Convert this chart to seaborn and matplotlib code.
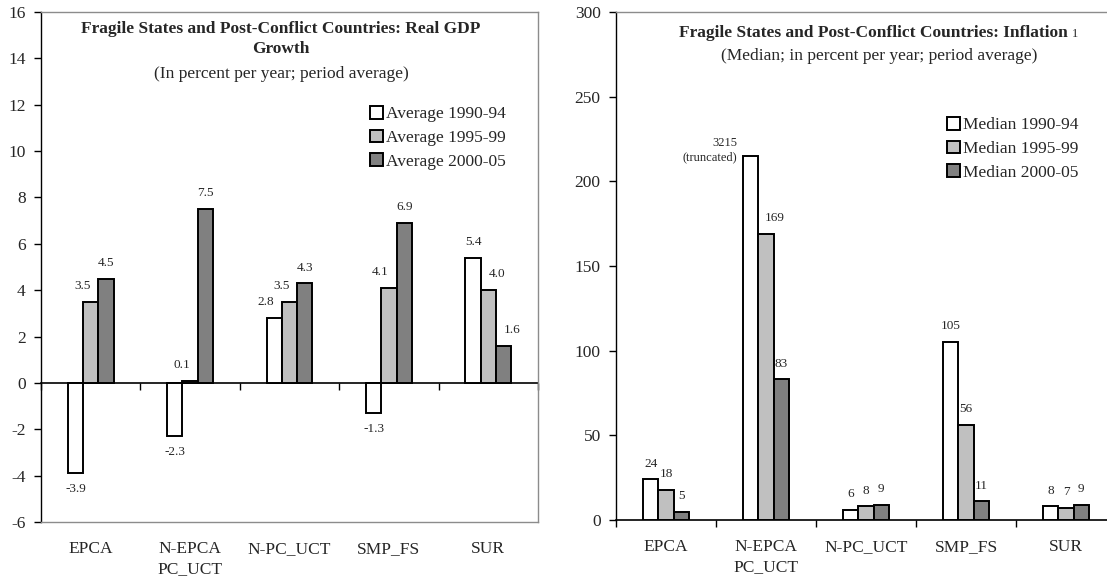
import numpy as np
import pandas as pd
import matplotlib
matplotlib.use("Agg")
import matplotlib.pyplot as plt
import seaborn as sns
from matplotlib.patches import Patch

# ---------------- data ----------------
regions = ["EPCA", "N-EPCA\nPC_UCT", "N-PC_UCT", "SMP_FS", "SUR"]

gdp_periods = ["Average 1990-94", "Average 1995-99", "Average 2000-05"]
gdp_1990_94 = [-3.9, -2.3, 2.8, -1.3, 5.4]
gdp_1995_99 = [3.5, 0.1, 3.5, 4.1, 4.0]
gdp_2000_05 = [4.5, 7.5, 4.3, 6.9, 1.6]

inf_periods = ["Median 1990-94", "Median 1995-99", "Median 2000-05"]
inf_1990_94 = [24, 3215, 6, 105, 8]
inf_1995_99 = [18, 169, 8, 56, 7]
inf_2000_05 = [5, 83, 9, 11, 9]
inf_cap = 215          # height at which the very large value is truncated

gdp_yticks = list(range(-6, 17, 2))
inf_yticks = list(range(0, 301, 50))

colors = ["#FFFFFF", "#C0C0C0", "#808080"]

# ---------------- style ----------------
sns.set_style("white")
plt.rcParams["font.family"] = ["Liberation Serif", "DejaVu Serif"]
plt.rcParams["axes.unicode_minus"] = False

W, H = 1107, 583
fig = plt.figure(figsize=(W / 100, H / 100), dpi=100)
ax1 = fig.add_axes([41 / W, 1 - 522 / H, (538 - 41) / W, (522 - 12) / H])
ax2 = fig.add_axes([616 / W, 1 - 520 / H, 500 / W, (520 - 12) / H])

FRAME = "#8C8C8C"
EDGE_LW = 1.4
LABEL_FS = 9.5


def long_df(periods, series, cap=None):
    rows = []
    for p, vals in zip(periods, series):
        for r, v in zip(regions, vals):
            pv = v if cap is None else min(v, cap)
            rows.append({"region": r, "period": p, "value": pv})
    return pd.DataFrame(rows)


def draw(ax, periods, series, yticks, cap, fmt):
    df = long_df(periods, series, cap)
    sns.barplot(data=df, x="region", y="value", hue="period",
                order=regions, hue_order=periods, palette=colors,
                saturation=1, width=0.46, edgecolor="black",
                linewidth=EDGE_LW, legend=False, errorbar=None, ax=ax)
    ax.set_xlim(-0.5, len(regions) - 0.5)
    ax.set_ylim(yticks[0], yticks[-1])
    ax.set_yticks(yticks)
    ax.set_xticks(range(len(regions)))
    ax.set_xticklabels(regions, fontsize=12.5, linespacing=1.3)
    ax.set_xlabel("")
    ax.set_ylabel("")
    ax.tick_params(axis="x", length=0, pad=14)
    ax.tick_params(axis="y", left=True, direction="out", length=5,
                   width=1, color="black", labelsize=12.5, pad=6)
    for s in ["top", "right", "bottom"]:
        ax.spines[s].set_color(FRAME)
        ax.spines[s].set_linewidth(1)
    ax.spines["left"].set_color("black")
    ax.spines["left"].set_linewidth(1)

    # category axis drawn at value 0 with boundary ticks
    y0, y1 = ax.get_ylim()
    frac = (0 - y0) / (y1 - y0)
    sec = ax.secondary_xaxis(frac)
    sec.set_xticks(np.arange(-0.5, len(regions), 1.0))
    sec.set_xticklabels([])
    sec.tick_params(direction="out", length=5, width=1, color="black")
    for s in sec.spines.values():
        s.set_color("black")
        s.set_linewidth(1.2)
    if frac == 0:
        ax.spines["bottom"].set_visible(False)

    fig.canvas.draw()
    renderer = fig.canvas.get_renderer()

    # collect bars per category
    groups = {}
    for k, container in enumerate(ax.containers):
        for bar in container:
            cx = bar.get_x() + bar.get_width() / 2
            groups.setdefault(int(round(cx)), {})[k] = bar

    for i, bars in groups.items():
        for k, bar in bars.items():
            v = series[k][i]
            cx = bar.get_x() + bar.get_width() / 2
            h = bar.get_height()
            if cap is not None and v > cap:
                ax.annotate(f"{v}\n(truncated)", (bar.get_x(), h),
                            xytext=(-4, 4), textcoords="offset points",
                            ha="right", va="center", fontsize=9,
                            linespacing=1.3)
                continue
            txt = fmt.format(v)
            if v < 0:
                ax.annotate(txt, (cx, h), xytext=(0, -7),
                            textcoords="offset points", ha="center",
                            va="top", fontsize=LABEL_FS)
                continue
            # Excel-like nudge away from a taller neighbour bar
            t = ax.text(0, 0, txt, fontsize=LABEL_FS)
            tw = t.get_window_extent(renderer).width
            t.remove()
            bar_px = (ax.transData.transform((bar.get_width(), 0))[0]
                      - ax.transData.transform((0, 0))[0])
            top_px = ax.transData.transform((0, h))[1]
            dx = 0
            if tw >= bar_px - 1:
                right = bars.get(k + 1)
                left = bars.get(k - 1)
                if right is not None and \
                        ax.transData.transform((0, right.get_height()))[1] > top_px + 10:
                    dx = -6
                elif left is not None and \
                        ax.transData.transform((0, left.get_height()))[1] > top_px + 10:
                    dx = 6
            ax.annotate(txt, (cx, h), xytext=(dx, 7),
                        textcoords="offset points", ha="center",
                        va="bottom", fontsize=LABEL_FS)


draw(ax1, gdp_periods, [gdp_1990_94, gdp_1995_99, gdp_2000_05],
     gdp_yticks, None, "{:.1f}")
draw(ax2, inf_periods, [inf_1990_94, inf_1995_99, inf_2000_05],
     inf_yticks, inf_cap, "{:d}")

# ---------------- titles ----------------
fig.text(281 / W, 1 - 39 / H,
         "Fragile States and Post-Conflict Countries: Real GDP\nGrowth",
         ha="center", va="center", fontsize=12.5, fontweight="bold",
         linespacing=1.3)
fig.text(281 / W, 1 - 74 / H, "(In percent per year; period average)",
         ha="center", va="center", fontsize=12.5)

t2 = fig.text(873 / W, 1 - 37 / H,
              "Fragile States and Post-Conflict Countries: Inflation",
              ha="center", va="baseline", fontsize=12.5, fontweight="bold")
fig.text(879 / W, 1 - 56 / H,
         "(Median; in percent per year; period average)",
         ha="center", va="center", fontsize=12.5)

fig.canvas.draw()
bb = t2.get_window_extent()
fig.text((bb.x1 + 5) / W, t2.get_position()[1], "1", ha="left",
         va="baseline", fontsize=9)


# ---------------- legends ----------------
def legend(ax, periods, x, ytop):
    handles = [Patch(facecolor=c, edgecolor="black", linewidth=EDGE_LW)
               for c in colors]
    ax.legend(handles, periods, loc="upper left",
              bbox_to_anchor=(x / W, 1 - ytop / H),
              bbox_transform=fig.transFigure, frameon=False,
              fontsize=12.5, handlelength=0.75, handleheight=0.75,
              handletextpad=0.2, labelspacing=0.42, borderpad=0,
              borderaxespad=0)


legend(ax1, gdp_periods, 370, 106)
legend(ax2, inf_periods, 947, 117)

fig.savefig("out.png", dpi=100)
